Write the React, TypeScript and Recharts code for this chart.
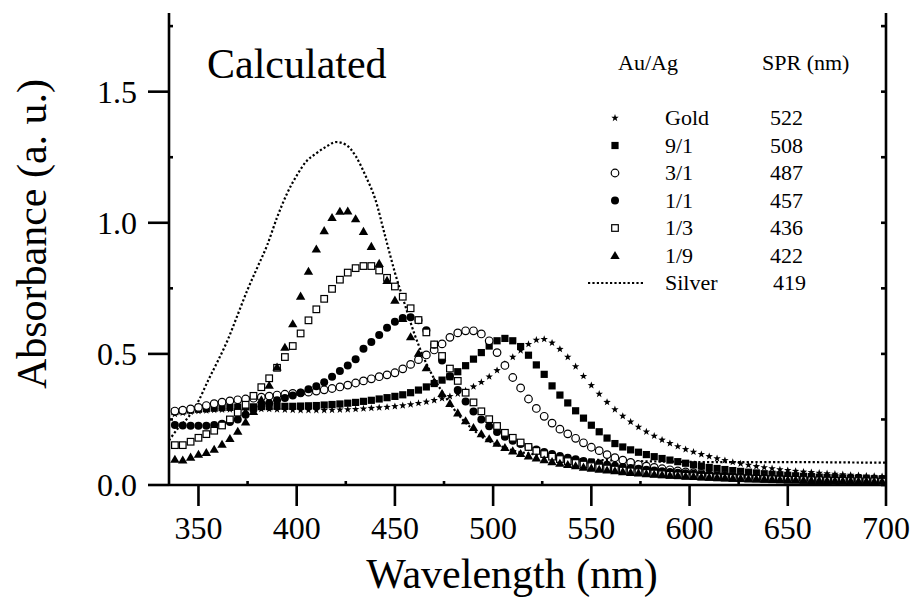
import React from 'react';
import { ComposedChart, Scatter, Line, XAxis, YAxis, ReferenceLine } from 'recharts';

// wavelength grid (nm) shared by the marker series
const WAVELENGTH = [
  338, 342, 346, 350, 354, 358, 362, 366, 370, 374,
  378, 382, 386, 390, 394, 398, 402, 406, 410, 414,
  418, 422, 426, 430, 434, 438, 442, 446, 450, 454,
  458, 462, 466, 470, 474, 478, 482, 486, 490, 494,
  498, 502, 506, 510, 514, 518, 522, 526, 530, 534,
  538, 542, 546, 550, 554, 558, 562, 566, 570, 574,
  578, 582, 586, 590, 594, 598, 602, 606, 610, 614,
  618, 622, 626, 630, 634, 638, 642, 646, 650, 654,
  658, 662, 666, 670, 674, 678, 682, 686, 690, 694,
  698,
];

const GOLD = [
  0.27, 0.275, 0.279, 0.282, 0.284, 0.286, 0.287, 0.288, 0.288, 0.289,
  0.289, 0.289, 0.289, 0.288, 0.287, 0.286, 0.285, 0.285, 0.285, 0.285,
  0.286, 0.287, 0.288, 0.289, 0.291, 0.293, 0.295, 0.297, 0.3, 0.303,
  0.307, 0.312, 0.317, 0.323, 0.33, 0.338, 0.348, 0.36, 0.375, 0.392,
  0.413, 0.437, 0.462, 0.488, 0.513, 0.537, 0.553, 0.556, 0.542, 0.518,
  0.488, 0.452, 0.415, 0.38, 0.347, 0.316, 0.288, 0.263, 0.241, 0.221,
  0.203, 0.187, 0.172, 0.159, 0.147, 0.136, 0.126, 0.117, 0.109, 0.101,
  0.094, 0.087, 0.081, 0.076, 0.071, 0.067, 0.063, 0.059, 0.056, 0.053,
  0.05, 0.048, 0.046, 0.044, 0.042, 0.04, 0.038, 0.037, 0.035, 0.034,
  0.033,
];

const AU9_AG1 = [
  0.28, 0.283, 0.286, 0.289, 0.291, 0.293, 0.295, 0.296, 0.297, 0.298,
  0.298, 0.299, 0.299, 0.3, 0.3, 0.3, 0.301, 0.302, 0.303, 0.305,
  0.307, 0.309, 0.312, 0.315, 0.319, 0.323, 0.328, 0.333, 0.338, 0.344,
  0.352, 0.362, 0.374, 0.387, 0.4, 0.413, 0.432, 0.455, 0.48, 0.505,
  0.53, 0.55, 0.559, 0.55, 0.528, 0.495, 0.458, 0.422, 0.378, 0.343,
  0.313, 0.283, 0.255, 0.228, 0.203, 0.179, 0.158, 0.145, 0.134, 0.125,
  0.116, 0.108, 0.101, 0.095, 0.089, 0.083, 0.077, 0.072, 0.067, 0.063,
  0.059, 0.055, 0.052, 0.049, 0.046, 0.043, 0.041, 0.039, 0.037, 0.035,
  0.033, 0.032, 0.03, 0.029, 0.028, 0.027, 0.026, 0.025, 0.024, 0.023,
  0.022,
];

const AU3_AG1 = [
  0.282, 0.285, 0.29, 0.296, 0.303, 0.31, 0.316, 0.321, 0.325, 0.328,
  0.331, 0.335, 0.339, 0.343, 0.346, 0.349, 0.351, 0.354, 0.358, 0.363,
  0.368, 0.374, 0.381, 0.389, 0.397, 0.405, 0.413, 0.42, 0.428, 0.443,
  0.46, 0.478, 0.496, 0.515, 0.538, 0.563, 0.58, 0.588, 0.588, 0.576,
  0.55, 0.505, 0.456, 0.41, 0.37, 0.328, 0.292, 0.262, 0.236, 0.213,
  0.195, 0.178, 0.161, 0.144, 0.131, 0.116, 0.104, 0.095, 0.086, 0.078,
  0.072, 0.067, 0.062, 0.058, 0.054, 0.05, 0.047, 0.044, 0.041, 0.039,
  0.037, 0.035, 0.033, 0.031, 0.03, 0.028, 0.027, 0.026, 0.025, 0.024,
  0.023, 0.022, 0.021, 0.02, 0.02, 0.019, 0.018, 0.018, 0.017, 0.017,
  0.016,
];

const AU1_AG1 = [
  0.229, 0.227, 0.226, 0.226, 0.226, 0.229, 0.234, 0.24, 0.25, 0.268,
  0.288, 0.3, 0.312, 0.323, 0.332, 0.341, 0.352, 0.365, 0.377, 0.392,
  0.413, 0.435, 0.456, 0.48, 0.52, 0.545, 0.572, 0.6, 0.623, 0.637,
  0.64, 0.628, 0.59, 0.535, 0.475, 0.415, 0.362, 0.318, 0.28, 0.25,
  0.224, 0.202, 0.184, 0.169, 0.156, 0.145, 0.135, 0.126, 0.118, 0.111,
  0.104, 0.098, 0.092, 0.087, 0.082, 0.077, 0.073, 0.069, 0.065, 0.062,
  0.058, 0.055, 0.052, 0.05, 0.047, 0.045, 0.043, 0.041, 0.039, 0.037,
  0.035, 0.034, 0.032, 0.031, 0.03, 0.028, 0.027, 0.026, 0.025, 0.024,
  0.023, 0.022, 0.021, 0.02, 0.02, 0.019, 0.018, 0.018, 0.017, 0.016,
  0.016,
];

const AU1_AG3 = [
  0.152, 0.152, 0.165, 0.18, 0.194, 0.207, 0.227, 0.25, 0.276, 0.306,
  0.34, 0.373, 0.407, 0.447, 0.488, 0.53, 0.578, 0.628, 0.67, 0.71,
  0.748, 0.783, 0.81, 0.827, 0.835, 0.835, 0.818, 0.79, 0.757, 0.718,
  0.674, 0.629, 0.582, 0.536, 0.492, 0.444, 0.397, 0.352, 0.315, 0.281,
  0.251, 0.225, 0.199, 0.18, 0.162, 0.145, 0.13, 0.118, 0.108, 0.099,
  0.091, 0.084, 0.078, 0.072, 0.067, 0.063, 0.059, 0.055, 0.052, 0.049,
  0.046, 0.044, 0.041, 0.039, 0.037, 0.035, 0.034, 0.032, 0.031, 0.029,
  0.028, 0.027, 0.026, 0.025, 0.024, 0.023, 0.022, 0.021, 0.02, 0.02,
  0.019, 0.018, 0.018, 0.017, 0.016, 0.016, 0.015, 0.015, 0.014, 0.014,
  0.013,
];

const AU1_AG9 = [
  0.098, 0.095, 0.106, 0.117, 0.124, 0.136, 0.155, 0.177, 0.205, 0.24,
  0.28, 0.325, 0.38, 0.45, 0.525, 0.615, 0.72, 0.815, 0.9, 0.97,
  1.02, 1.044, 1.045, 1.015, 0.967, 0.91, 0.845, 0.78, 0.705, 0.635,
  0.565, 0.502, 0.447, 0.394, 0.349, 0.311, 0.275, 0.245, 0.219, 0.195,
  0.176, 0.159, 0.143, 0.13, 0.12, 0.111, 0.103, 0.096, 0.089, 0.083,
  0.078, 0.073, 0.068, 0.064, 0.06, 0.057, 0.054, 0.051, 0.048, 0.046,
  0.043, 0.041, 0.039, 0.037, 0.036, 0.034, 0.033, 0.031, 0.03, 0.029,
  0.028, 0.026, 0.025, 0.024, 0.024, 0.023, 0.022, 0.021, 0.02, 0.02,
  0.019, 0.018, 0.018, 0.017, 0.017, 0.016, 0.016, 0.015, 0.015, 0.014,
  0.014,
];

// silver is drawn as a dotted line on its own grid
const SILVER_NM = [
  335, 340, 345, 350, 355, 360, 365, 370, 375, 380,
  385, 390, 395, 400, 405, 410, 415, 420, 425, 430,
  435, 440, 445, 450, 455, 460, 465, 470, 475, 480,
  485, 490, 495, 500, 505, 510, 520, 530, 540, 550,
  560, 570, 580, 590, 600, 620, 640, 660, 680, 700,
];
const SILVER = [
  0.17, 0.22, 0.26, 0.32, 0.4, 0.475, 0.555, 0.65, 0.745, 0.83,
  0.915, 1.02, 1.11, 1.18, 1.235, 1.265, 1.29, 1.308, 1.298, 1.255,
  1.18, 1.09, 0.95, 0.81, 0.69, 0.575, 0.48, 0.405, 0.345, 0.29,
  0.245, 0.21, 0.18, 0.16, 0.145, 0.132, 0.118, 0.108, 0.101, 0.097,
  0.094, 0.092, 0.09, 0.089, 0.088, 0.087, 0.087, 0.087, 0.086, 0.085,
];

const X_TICKS = [350, 375, 400, 425, 450, 475, 500, 525, 550, 575, 600, 625, 650, 675, 700];
const Y_TICKS = [0, 0.25, 0.5, 0.75, 1.0, 1.25, 1.5, 1.75];

const LEGEND_ROWS = [
  { name: 'Gold', spr: '522', shape: 'star' },
  { name: '9/1', spr: '508', shape: 'fsquare' },
  { name: '3/1', spr: '487', shape: 'ocircle' },
  { name: '1/1', spr: '457', shape: 'fcircle' },
  { name: '1/3', spr: '436', shape: 'osquare' },
  { name: '1/9', spr: '422', shape: 'triangle' },
];

const W = 913;
const H = 598;
// plot area: x 169..886, y 13..485
const MARGIN = { top: 13, right: 27, bottom: 73, left: 119 };
const RIGHT_X = W - MARGIN.right;
const FONT = '"Liberation Serif", "Times New Roman", serif';
const AXIS_W = 2.6;

const toPts = (ys: number[], xs: number[] = WAVELENGTH) => xs.map((x, i) => ({ x, y: ys[i] }));

function Marker({ kind, cx, cy }: { kind: string; cx: number; cy: number }) {
  if (cx == null || cy == null) return null;
  switch (kind) {
    case 'star': {
      const pts: string[] = [];
      for (let i = 0; i < 10; i++) {
        const r = i % 2 === 0 ? 3.9 : 1.6;
        const a = -Math.PI / 2 + (i * Math.PI) / 5;
        pts.push(`${cx + r * Math.cos(a)},${cy + r * Math.sin(a)}`);
      }
      return <polygon points={pts.join(' ')} fill="#000" />;
    }
    case 'fsquare':
      return <rect x={cx - 3.6} y={cy - 3.6} width={7.2} height={7.2} fill="#000" />;
    case 'osquare':
      return <rect x={cx - 3.3} y={cy - 3.3} width={6.6} height={6.6} fill="#fff" stroke="#000" strokeWidth={1.2} />;
    case 'ocircle':
      return <circle cx={cx} cy={cy} r={3.8} fill="#fff" stroke="#000" strokeWidth={1.2} />;
    case 'fcircle':
      return <circle cx={cx} cy={cy} r={4} fill="#000" />;
    case 'triangle':
      return <polygon points={`${cx},${cy - 4.6} ${cx + 4.7},${cy + 3.5} ${cx - 4.7},${cy + 3.5}`} fill="#000" />;
    default:
      return null;
  }
}

const XTick = (props: any) => {
  const { x, y, payload } = props;
  const v = payload.value;
  const major = v % 50 === 0;
  return (
    <g>
      <line x1={x} x2={x} y1={y} y2={major ? y + 21 : y - 4} stroke="#000" strokeWidth={AXIS_W} />
      {major && (
        <text x={x} y={y + 54} textAnchor="middle" fontFamily={FONT} fontSize={32} fill="#000">
          {v}
        </text>
      )}
    </g>
  );
};

const YTick = (props: any) => {
  const { x, y, payload } = props;
  const v = payload.value;
  const major = Math.abs(v * 2 - Math.round(v * 2)) < 1e-6;
  return (
    <g>
      <line x1={x} x2={major ? x - 21 : x + 4} y1={y} y2={y} stroke="#000" strokeWidth={AXIS_W} />
      <line x1={RIGHT_X} x2={RIGHT_X - 5} y1={y} y2={y} stroke="#000" strokeWidth={AXIS_W} />
      {major && (
        <text x={x - 32} y={y + 11} textAnchor="end" fontFamily={FONT} fontSize={32} fill="#000">
          {v.toFixed(1)}
        </text>
      )}
    </g>
  );
};

const series = [
  { key: 'gold', data: toPts(GOLD), kind: 'star' },
  { key: '91', data: toPts(AU9_AG1), kind: 'fsquare' },
  { key: '31', data: toPts(AU3_AG1), kind: 'ocircle' },
  { key: '11', data: toPts(AU1_AG1), kind: 'fcircle' },
  { key: '13', data: toPts(AU1_AG3), kind: 'osquare' },
  { key: '19', data: toPts(AU1_AG9), kind: 'triangle' },
];

export default function App() {
  const rowY0 = 125;
  const rowStep = 27.5;
  return (
    <div style={{ position: 'absolute', left: 0, top: 0, width: W, height: H, background: '#fff' }}>
      <ComposedChart width={W} height={H} margin={MARGIN}>
        <XAxis
          type="number"
          dataKey="x"
          domain={[335, 700]}
          ticks={X_TICKS}
          allowDataOverflow
          height={40}
          tickSize={0}
          tickMargin={0}
          tickLine={false}
          tick={<XTick />}
          interval={0}
          axisLine={{ stroke: '#000', strokeWidth: AXIS_W }}
        />
        <YAxis
          type="number"
          dataKey="y"
          domain={[0, 1.8]}
          ticks={Y_TICKS}
          allowDataOverflow
          width={50}
          tickSize={0}
          tickMargin={0}
          tickLine={false}
          tick={<YTick />}
          interval={0}
          axisLine={{ stroke: '#000', strokeWidth: AXIS_W }}
        />
        <ReferenceLine x={700} stroke="#000" strokeWidth={AXIS_W} ifOverflow="visible" />
        {series.map((s) => (
          <Scatter
            key={s.key}
            data={s.data}
            dataKey="y"
            isAnimationActive={false}
            shape={(p: any) => <Marker kind={s.kind} cx={p.cx} cy={p.cy} />}
          />
        ))}
        <Line
          data={toPts(SILVER, SILVER_NM)}
          dataKey="y"
          type="monotone"
          stroke="#000"
          strokeWidth={2.2}
          strokeDasharray="2.2 2.2"
          dot={false}
          activeDot={false}
          isAnimationActive={false}
        />
      </ComposedChart>
      <svg
        width={W}
        height={H}
        style={{ position: 'absolute', left: 0, top: 0, pointerEvents: 'none' }}
        fontFamily={FONT}
      >
        <text x={207} y={78} fontSize={42} fill="#000">Calculated</text>
        <text x={46} y={234} fontSize={42} fill="#000" textAnchor="middle" transform="rotate(-90 46 234)">
          Absorbance (a. u.)
        </text>
        <text x={512} y={588} fontSize={42} fill="#000" textAnchor="middle">Wavelength (nm)</text>
        <text x={618} y={70} fontSize={22} fill="#000">Au/Ag</text>
        <text x={762} y={70} fontSize={22} fill="#000">SPR (nm)</text>
        {LEGEND_ROWS.map((r, i) => {
          const by = rowY0 + i * rowStep;
          return (
            <g key={r.name}>
              <Marker kind={r.shape} cx={615} cy={by - 7} />
              <text x={665} y={by} fontSize={22} fill="#000">{r.name}</text>
              <text x={770} y={by} fontSize={22} fill="#000">{r.spr}</text>
            </g>
          );
        })}
        <line x1={588} x2={643} y1={283} y2={283} stroke="#000" strokeWidth={2.2} strokeDasharray="2.2 2.2" />
        <text x={665} y={290} fontSize={22} fill="#000">Silver</text>
        <text x={773} y={290} fontSize={22} fill="#000">419</text>
      </svg>
    </div>
  );
}
